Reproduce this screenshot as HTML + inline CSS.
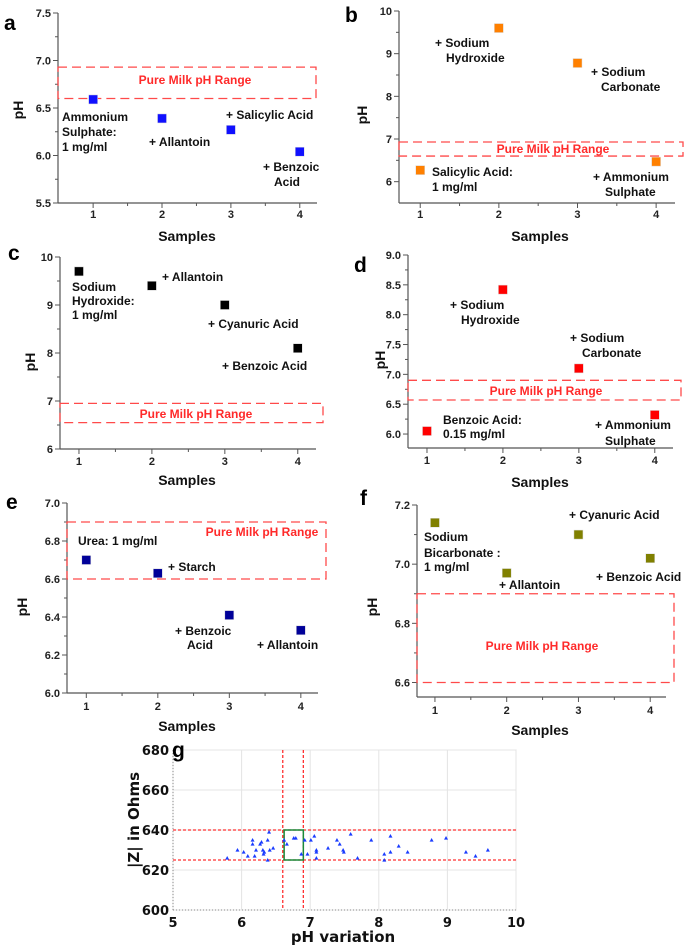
<!DOCTYPE html>
<html><head><meta charset="utf-8">
<style>
html,body{margin:0;padding:0;background:#fff;}
svg{display:block;font-family:"Liberation Sans",Arial,sans-serif;}
.tk{font-size:11px;font-weight:bold;fill:#222;}
.an{font-size:12px;font-weight:bold;fill:#111;}
.rg{font-size:12px;font-weight:bold;fill:#ff2a2a;}
.ax{font-size:14px;font-weight:bold;fill:#111;}
.pl{font-size:21px;font-weight:bold;fill:#000;}
.gt{font-family:"DejaVu Sans",sans-serif;font-size:13px;font-weight:bold;fill:#111;}
</style></head>
<body>
<svg id="fig" width="685" height="945" viewBox="0 0 685 945" xmlns="http://www.w3.org/2000/svg"></svg>
<script>
// ---- data ----
const sampleCategories = [1, 2, 3, 4];
const aValues = [6.59, 6.39, 6.27, 6.04];
const bValues = [6.27, 9.6, 8.78, 6.47];
const cValues = [9.7, 9.4, 9.0, 8.1];
const dValues = [6.05, 8.42, 7.1, 6.32];
const eValues = [6.70, 6.63, 6.41, 6.33];
const fValues = [7.14, 6.97, 7.10, 7.02];
const aTicks = [5.5, 6.0, 6.5, 7.0, 7.5];
const bTicks = [6, 7, 8, 9, 10];
const cTicks = [6, 7, 8, 9, 10];
const dTicks = [6.0, 6.5, 7.0, 7.5, 8.0, 8.5, 9.0];
const eTicks = [6.0, 6.2, 6.4, 6.6, 6.8, 7.0];
const fTicks = [6.6, 6.8, 7.0, 7.2];
const gX = [5.79,5.94,6.03,6.09,6.16,6.16,6.19,6.21,6.27,6.29,6.31,6.32,6.33,6.38,6.38,6.40,6.41,6.46,6.62,6.66,6.76,6.79,6.87,6.92,6.96,7.01,7.06,7.09,7.09,7.09,7.26,7.39,7.43,7.48,7.49,7.59,7.69,7.89,8.08,8.08,8.17,8.17,8.29,8.42,8.77,8.98,9.27,9.41,9.59];
const gY = [626,630,629,627,635,633,627,630,633,634,630,628,629,635,625,639,630,631,635,633,636,636,628,635,628,635,637,630,629,626,631,635,633,630,629,638,626,635,628,625,637,629,632,629,635,636,629,627,630];
const gXTicks = [5, 6, 7, 8, 9, 10];
const gYTicks = [600, 620, 640, 660, 680];

const NS = "http://www.w3.org/2000/svg";
const svg = document.getElementById('fig');
function mk(tag, attrs, parent) {
  const e = document.createElementNS(NS, tag);
  for (const k in attrs) e.setAttribute(k, attrs[k]);
  (parent || svg).appendChild(e);
  return e;
}
function txt(s, x, y, cls, parent, anchor) {
  const t = mk('text', {x: x, y: y, class: cls}, parent);
  if (anchor) t.setAttribute('text-anchor', anchor);
  t.textContent = s;
  return t;
}

const panels = [
 {id:'a', values:aValues, ticks:aTicks, color:'#1010ff', L:58, R:317, B:203, T:13, ymin:5.5, ymax:7.5, xmin:0.49, xmax:4.25,
  range:[6.6,6.93], rangeRight:316, rangeLabel:[195,84], letter:[4,30], samples:[187,241], ph:[18,110], fmt:1, tl:15,
  ann:[['Ammonium',62,121],['Sulphate:',62,136],['1 mg/ml',62,151],['+ Allantoin',149,146],['+ Salicylic Acid',226,119],['+ Benzoic',263,171],['Acid',274,186]]},
 {id:'b', values:bValues, ticks:bTicks, color:'#ff8000', L:399, R:675, B:203, T:11, ymin:5.5, ymax:10, xmin:0.73, xmax:4.24,
  range:[6.6,6.93], rangeRight:683, rangeLabel:[553,153], letter:[345,22], samples:[540,241], ph:[362,115], fmt:0, tl:15,
  ann:[['+ Sodium',435,47],['Hydroxide',446,62],['+ Sodium',591,76],['Carbonate',601,91],['Salicylic Acid:',432,176],['1 mg/ml',432,191],['+ Ammonium',593,181],['Sulphate',605,196]]},
 {id:'c', values:cValues, ticks:cTicks, color:'#000000', L:60, R:316, B:449, T:257, ymin:6, ymax:10, xmin:0.74, xmax:4.25,
  range:[6.55,6.95], rangeRight:323, rangeLabel:[196,418], letter:[8,260], samples:[187,485], ph:[30,362], fmt:0, tl:16,
  ann:[['Sodium',72,291],['Hydroxide:',72,305],['1 mg/ml',72,319],['+ Allantoin',162,281],['+ Cyanuric Acid',208,328],['+ Benzoic Acid',222,370]]},
 {id:'d', values:dValues, ticks:dTicks, color:'#ff0000', L:408, R:673, B:448, T:255, ymin:5.766, ymax:9.0, xmin:0.75, xmax:4.24,
  range:[6.57,6.9], rangeRight:681, rangeLabel:[546,395], letter:[354,272], samples:[540,487], ph:[380,360], fmt:1, tl:16,
  ann:[['+ Sodium',450,309],['Hydroxide',461,324],['+ Sodium',570,342],['Carbonate',582,357],['Benzoic Acid:',443,424],['0.15 mg/ml',443,438],['+ Ammonium',595,429],['Sulphate',605,445]]},
 {id:'e', values:eValues, ticks:eTicks, color:'#000099', L:67, R:318, B:693, T:503, ymin:6.0, ymax:7.0, xmin:0.73, xmax:4.24,
  range:[6.6,6.9], rangeRight:326, rangeLabel:[262,536], letter:[6,509], samples:[187,731], ph:[22,607], fmt:1, tl:17,
  ann:[['Urea: 1 mg/ml',78,545],['+ Starch',168,571],['+ Benzoic',175,635],['Acid',187,649],['+ Allantoin',257,649]]},
 {id:'f', values:fValues, ticks:fTicks, color:'#808000', L:417, R:666, B:697, T:505, ymin:6.551, ymax:7.2, xmin:0.75, xmax:4.22,
  range:[6.6,6.9], rangeRight:674, rangeLabel:[542,650], letter:[360,505], samples:[540,735], ph:[372,607], fmt:1, tl:17,
  ann:[['Sodium',424,541],['Bicarbonate :',424,557],['1 mg/ml',424,571],['+ Allantoin',499,589],['+ Cyanuric Acid',569,519],['+ Benzoic Acid',596,581]]}
];

panels.forEach(p => {
  const g = mk('g', {});
  
  
  const yUnit = (p.B - p.T) / (p.ymax - p.ymin);
  const ys = v => p.B - (v - p.ymin) * yUnit;
  const xs = v => p.L + (v - p.xmin) / (p.xmax - p.xmin) * (p.R - p.L);
  const ya = mk('line', {x1:p.L, y1:p.T, x2:p.L, y2:p.B, stroke:'#555', 'stroke-width':1.2}, g);
  
  
  const xa = mk('line', {x1:p.L, y1:p.B, x2:p.R, y2:p.B, stroke:'#555', 'stroke-width':1.2}, g);
  
  
  p.ticks.forEach((t, i) => {
    const y = ys(t);
    mk('line', {x1:p.L-5, y1:y, x2:p.L, y2:y, stroke:'#555'}, g);
    if (i < p.ticks.length - 1) {
      const ym = ys((t + p.ticks[i+1]) / 2);
      mk('line', {x1:p.L-3, y1:ym, x2:p.L, y2:ym, stroke:'#555'}, g);
    }
    const lab = txt(p.fmt ? t.toFixed(1) : String(t), p.L - 7, y + 4, 'tk', g, 'end');
    
    
  });
  sampleCategories.forEach((c, i) => {
    const x = xs(c);
    mk('line', {x1:x, y1:p.B, x2:x, y2:p.B+5, stroke:'#555'}, g);
    if (i < sampleCategories.length - 1) {
      const xm = xs(c + 0.5);
      mk('line', {x1:xm, y1:p.B, x2:xm, y2:p.B+3, stroke:'#555'}, g);
    }
    const lab = txt(String(c), x, p.B + p.tl, 'tk', g, 'middle');
    
    
  });
  const r = mk('rect', {x:p.L, y:ys(p.range[1]), width:p.rangeRight - p.L, height:ys(p.range[0]) - ys(p.range[1]),
    fill:'none', stroke:'#ff4a4a', 'stroke-width':1.3, 'stroke-dasharray':'9,5'}, g);
  
  
  const rl = txt('Pure Milk pH Range', p.rangeLabel[0], p.rangeLabel[1], 'rg', g, 'middle');
  
  
  p.values.forEach((v, i) => {
    const m = mk('rect', {x:xs(sampleCategories[i]) - 4.5, y:ys(v) - 4.5, width:9, height:9, fill:p.color, stroke:'#ddd', 'stroke-width':0.5}, g);
    
    
  });
  p.ann.forEach(a => {
    const t = txt(a[0], a[1], a[2], 'an', g);
    
    
  });
  const s = txt('Samples', p.samples[0], p.samples[1], 'ax', g, 'middle');
  
  
  const ph = txt('pH', 0, 0, 'ax', g, 'middle');
  ph.setAttribute('transform', 'translate(' + (p.ph[0] + 5) + ',' + p.ph[1] + ') rotate(-90)');
  
  
  const L = txt(p.id, p.letter[0], p.letter[1], 'pl', g);
  
  
});

// ---- panel g ----
(function(){
  const g = mk('g', {});
  
  
  const L = 173, R = 516, T = 750, B = 910;
  const xs = v => L + (v - 5) / 5 * (R - L);
  const ys = v => B - (v - 600) / 80 * (B - T);
  mk('rect', {x:L, y:T, width:R-L, height:B-T, fill:'#fff', stroke:'#ddd'}, g);
  gXTicks.forEach(t => {
    mk('line', {x1:xs(t), y1:T, x2:xs(t), y2:B, stroke:'#e4e4e4'}, g);
    const lab = txt(String(t), xs(t), B + 17, 'gt', g, 'middle');
    
    
  });
  gYTicks.forEach(t => {
    mk('line', {x1:L, y1:ys(t), x2:R, y2:ys(t), stroke:'#e4e4e4'}, g);
    const lab = txt(String(t), L - 4, ys(t) + 5, 'gt', g, 'end');
    
    
  });
  mk('line', {x1:L, y1:T, x2:L, y2:B, stroke:'#888', 'stroke-dasharray':'1,2'}, g);
  mk('line', {x1:L, y1:B, x2:R, y2:B, stroke:'#888', 'stroke-dasharray':'1,2'}, g);
  [6.6, 6.9].forEach(v => {
    const l = mk('line', {x1:xs(v), y1:T, x2:xs(v), y2:B, stroke:'#ff3030', 'stroke-width':1.3, 'stroke-dasharray':'3,2'}, g);
    
    
  });
  [625, 640].forEach(v => {
    const l = mk('line', {x1:L, y1:ys(v), x2:R, y2:ys(v), stroke:'#ff3030', 'stroke-width':1.3, 'stroke-dasharray':'3,2'}, g);
    
    
  });
  const box = mk('rect', {x:xs(6.62), y:ys(640), width:xs(6.9)-xs(6.62), height:ys(625)-ys(640), fill:'none', stroke:'#1a8a3a', 'stroke-width':1.5}, g);
  
  
  gX.forEach((x, i) => {
    const cx = xs(x), cy = ys(gY[i]);
    const m = mk('polygon', {points:(cx-2)+','+(cy+1.6)+' '+(cx+2)+','+(cy+1.6)+' '+cx+','+(cy-2), fill:'#1a3cff'}, g);
    
    
  });
  const xt = txt('pH variation', 343, 942, 'gt', g, 'middle');
  xt.style.fontSize = '15px';
  
  
  const yt = txt('|Z| in Ohms', 0, 0, 'gt', g, 'middle');
  yt.style.fontSize = '15px';
  yt.setAttribute('transform', 'translate(139,820) rotate(-90)');
  
  
  const gl = txt('g', 172, 757, 'pl', g);
  
  
})();
</script>
</body></html>
